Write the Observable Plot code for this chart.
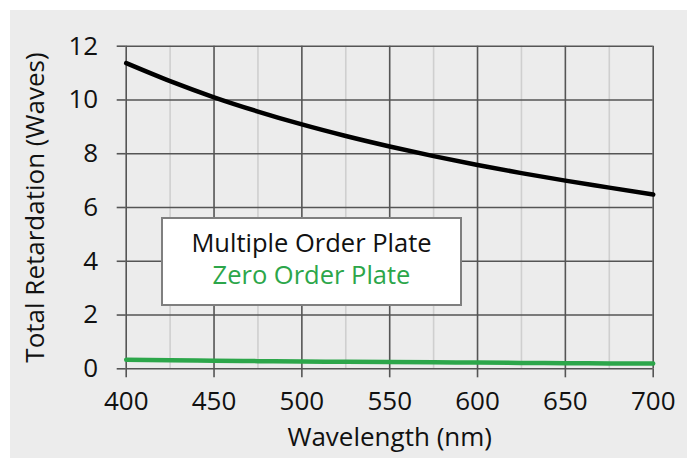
<!DOCTYPE html>
<html>
<head>
<meta charset="utf-8">
<script src="https://cdn.jsdelivr.net/npm/d3@7"></script>
<script src="https://cdn.jsdelivr.net/npm/@observablehq/plot@0.6"></script>
<style>
  html, body { margin: 0; padding: 0; background: #ffffff; }
  #wrap { position: relative; width: 687px; height: 458px; overflow: hidden; font-family: "Open Sans", sans-serif; }
  #panel { position: absolute; left: 10px; top: 10px; width: 677px; height: 448px; background: #ececec; }
  #chart { position: absolute; left: 0; top: 0; }
  #legend { position: absolute; left: 161px; top: 217px; width: 301px; height: 89px; box-sizing: border-box;
            border: 2px solid #7f7f7f; background: #ffffff; text-align: center; font-size: 25.5px; line-height: 32px; padding-top: 7px; }
</style>
</head>
<body>
<div id="wrap">
  <div id="panel"></div>
  <div id="chart"></div>
  <div id="legend"></div>
</div>
<script>
// ---- data ----
const wavelengths = [400, 425, 450, 475, 500, 525, 550, 575, 600, 625, 650, 675, 700];
const multipleOrder = [11.37, 10.70, 10.10, 9.57, 9.09, 8.66, 8.27, 7.91, 7.58, 7.28, 7.00, 6.74, 6.48];
const zeroOrder = [0.34, 0.32, 0.30, 0.285, 0.27, 0.26, 0.25, 0.24, 0.23, 0.22, 0.21, 0.20, 0.195];
const seriesNames = ["Multiple Order Plate", "Zero Order Plate"];
const seriesColors = ["#000000", "#2ca64a"];
const xTicks = [400, 450, 500, 550, 600, 650, 700];
const xMinorTicks = [425, 475, 525, 575, 625, 675];
const yTicks = [0, 2, 4, 6, 8, 10, 12];
const xTitle = "Wavelength (nm)";
const yTitle = "Total Retardation (Waves)";

const rows = [];
wavelengths.forEach((w, i) => {
  rows.push({wl: w, v: multipleOrder[i], s: seriesNames[0]});
});
wavelengths.forEach((w, i) => {
  rows.push({wl: w, v: zeroOrder[i], s: seriesNames[1]});
});

const gridDark = "#555555";
const gridLight = "#cfcfcf";

const plot = Plot.plot({
  width: 687,
  height: 458,
  marginLeft: 125.7,
  marginRight: 34.3,
  marginTop: 45.7,
  marginBottom: 89.7,
  style: {background: "transparent", fontFamily: "Open Sans, sans-serif", fontSize: "26px", color: "#111"},
  x: {domain: [400, 700]},
  y: {domain: [0, 12]},
  color: {domain: seriesNames, range: seriesColors},
  marks: [
    Plot.gridX(xMinorTicks, {stroke: gridLight, strokeOpacity: 1, strokeWidth: 1.6}),
    Plot.gridX(xTicks, {stroke: gridDark, strokeOpacity: 1, strokeWidth: 1.6}),
    Plot.gridY(yTicks, {stroke: gridDark, strokeOpacity: 1, strokeWidth: 1.6}),
    Plot.axisX(xTicks, {tickSize: 9, tickPadding: 14, stroke: gridDark, strokeWidth: 1.6, fontSize: 26,
      label: xTitle, labelAnchor: "center", labelOffset: 77, labelArrow: "none"}),
    Plot.axisY(yTicks, {tickSize: 9, tickPadding: 19, stroke: gridDark, strokeWidth: 1.6, fontSize: 26,
      label: yTitle, labelAnchor: "center", labelOffset: 101, labelArrow: "none"}),
    Plot.line(rows, {x: "wl", y: "v", z: "s", stroke: "s", strokeWidth: 4.5, curve: "monotone-x"})
  ]
});
document.getElementById("chart").appendChild(plot);

const legend = document.getElementById("legend");
seriesNames.forEach((name, i) => {
  const d = document.createElement("div");
  d.textContent = name;
  d.style.color = i === 0 ? "#111" : seriesColors[i];
  legend.appendChild(d);
});
</script>
</body>
</html>
